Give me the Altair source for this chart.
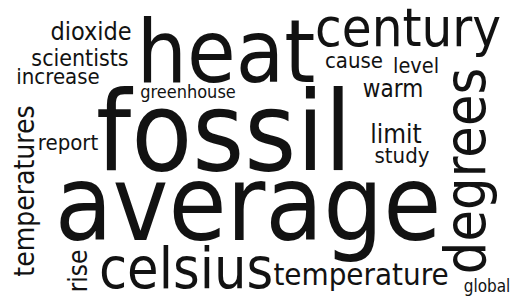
import altair as alt
import pandas as pd

words = ["fossil", "average", "heat", "century", "degrees", "celsius",
         "temperature", "temperatures", "dioxide", "scientists", "increase",
         "greenhouse", "report", "rise", "cause", "level", "warm", "limit",
         "study", "global"]
weights = [111, 105, 88, 54, 57, 57, 31, 28, 25, 23, 22, 18, 22, 26, 22,
           21.5, 24, 26, 22, 17]
xs = [224, 248, 226, 408, 485, 186, 361, 34, 91, 80, 58, 188, 68, 87, 354,
      416, 393, 396, 402, 487]
ys = [170, 240, 82, 46, 171, 288, 285, 191, 40, 66, 84, 98, 150, 271, 68,
      73, 97, 143, 163, 292]
angles = [0, 0, 0, 0, 270, 0, 0, 270, 0, 0, 0, 0, 0, 270, 0, 0, 0, 0, 0, 0]

df = pd.DataFrame({"word": words, "weight": weights, "x": xs, "y": ys,
                   "angle": angles})

chart = alt.Chart(df).mark_text(
    align="center", baseline="alphabetic",
    font="DejaVu Sans Condensed, DejaVu Sans", color="#121212"
).encode(
    x=alt.X("x:Q", scale=alt.Scale(domain=[8, 511], nice=False, zero=False), axis=None),
    y=alt.Y("y:Q", scale=alt.Scale(domain=[8, 297], nice=False, zero=False, reverse=True), axis=None),
    size=alt.Size("weight:Q", scale=None, legend=None),
    angle=alt.Angle("angle:Q", scale=None),
    text="word:N",
).properties(
    width=503, height=289, padding=0, autosize=alt.AutoSizeParams(type="none")
).configure_view(stroke=None)

chart.save("out.html", embed_options={"renderer": "svg", "actions": False})
